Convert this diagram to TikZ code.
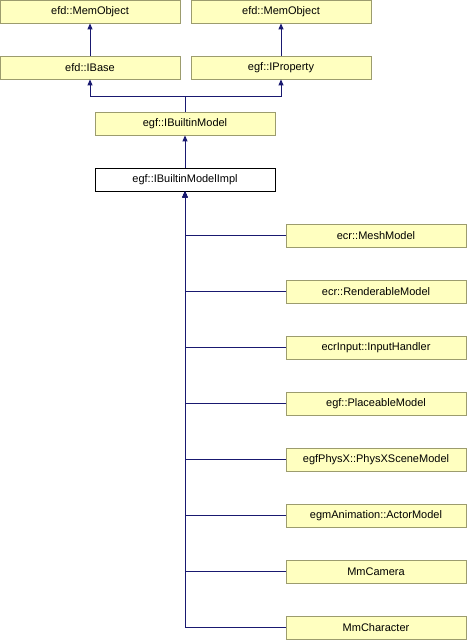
\documentclass[tikz,border=0pt]{standalone}
\usepackage{fontspec}
\setmainfont{Liberation Sans}
\usetikzlibrary{arrows.meta}
\definecolor{boxfill}{HTML}{FFFFC0}
\definecolor{boxline}{HTML}{9C9C6E}
\definecolor{edge}{HTML}{191970}
\tikzset{
  cls/.style={draw=boxline, fill=boxfill, line width=0.8bp, minimum width=180bp, minimum height=23bp, inner sep=0pt, font=\fontsize{11bp}{13bp}\selectfont},
  cur/.style={cls, draw=black, fill=white},
  arr/.style={draw=edge, line width=1bp, -{Triangle[length=6bp,width=5bp]}}
}
\begin{document}
\begin{tikzpicture}[x=1bp,y=-1bp]
\fill[white] (0,0) rectangle (467,640);
\useasboundingbox (0,0) rectangle (467,640);
\node[cls] (mo1) at (90,11.5) {efd::MemObject};
\node[cls] (mo2) at (281,11.5) {efd::MemObject};
\node[cls] (ibase) at (90,67.5) {efd::IBase};
\node[cls] (iprop) at (281,67.5) {egf::IProperty};
\node[cls] (ibm) at (185,123.5) {egf::IBuiltinModel};
\node[cur] (impl) at (185,179.5) {egf::IBuiltinModelImpl};
\node[cls] (r0) at (376,235.5) {ecr::MeshModel};
\node[cls] (r1) at (376,291.5) {ecr::RenderableModel};
\node[cls] (r2) at (376,347.5) {ecrInput::InputHandler};
\node[cls] (r3) at (376,403.5) {egf::PlaceableModel};
\node[cls] (r4) at (376,459.5) {egfPhysX::PhysXSceneModel};
\node[cls] (r5) at (376,515.5) {egmAnimation::ActorModel};
\node[cls] (r6) at (376,571.5) {MmCamera};
\node[cls] (r7) at (376,627.5) {MmCharacter};
\draw[arr] (ibase) -- (mo1);
\draw[arr] (iprop) -- (mo2);
\draw[arr] (ibm.north) -- ++(0,-15) -| (ibase.south);
\draw[arr] (ibm.north) -- ++(0,-15) -| (iprop.south);
\draw[arr] (impl) -- (ibm);
\foreach \r in {r0,r1,r2,r3,r4,r5,r6,r7}
  \draw[arr] (\r.west) -| (impl.south);
\end{tikzpicture}
\end{document}
